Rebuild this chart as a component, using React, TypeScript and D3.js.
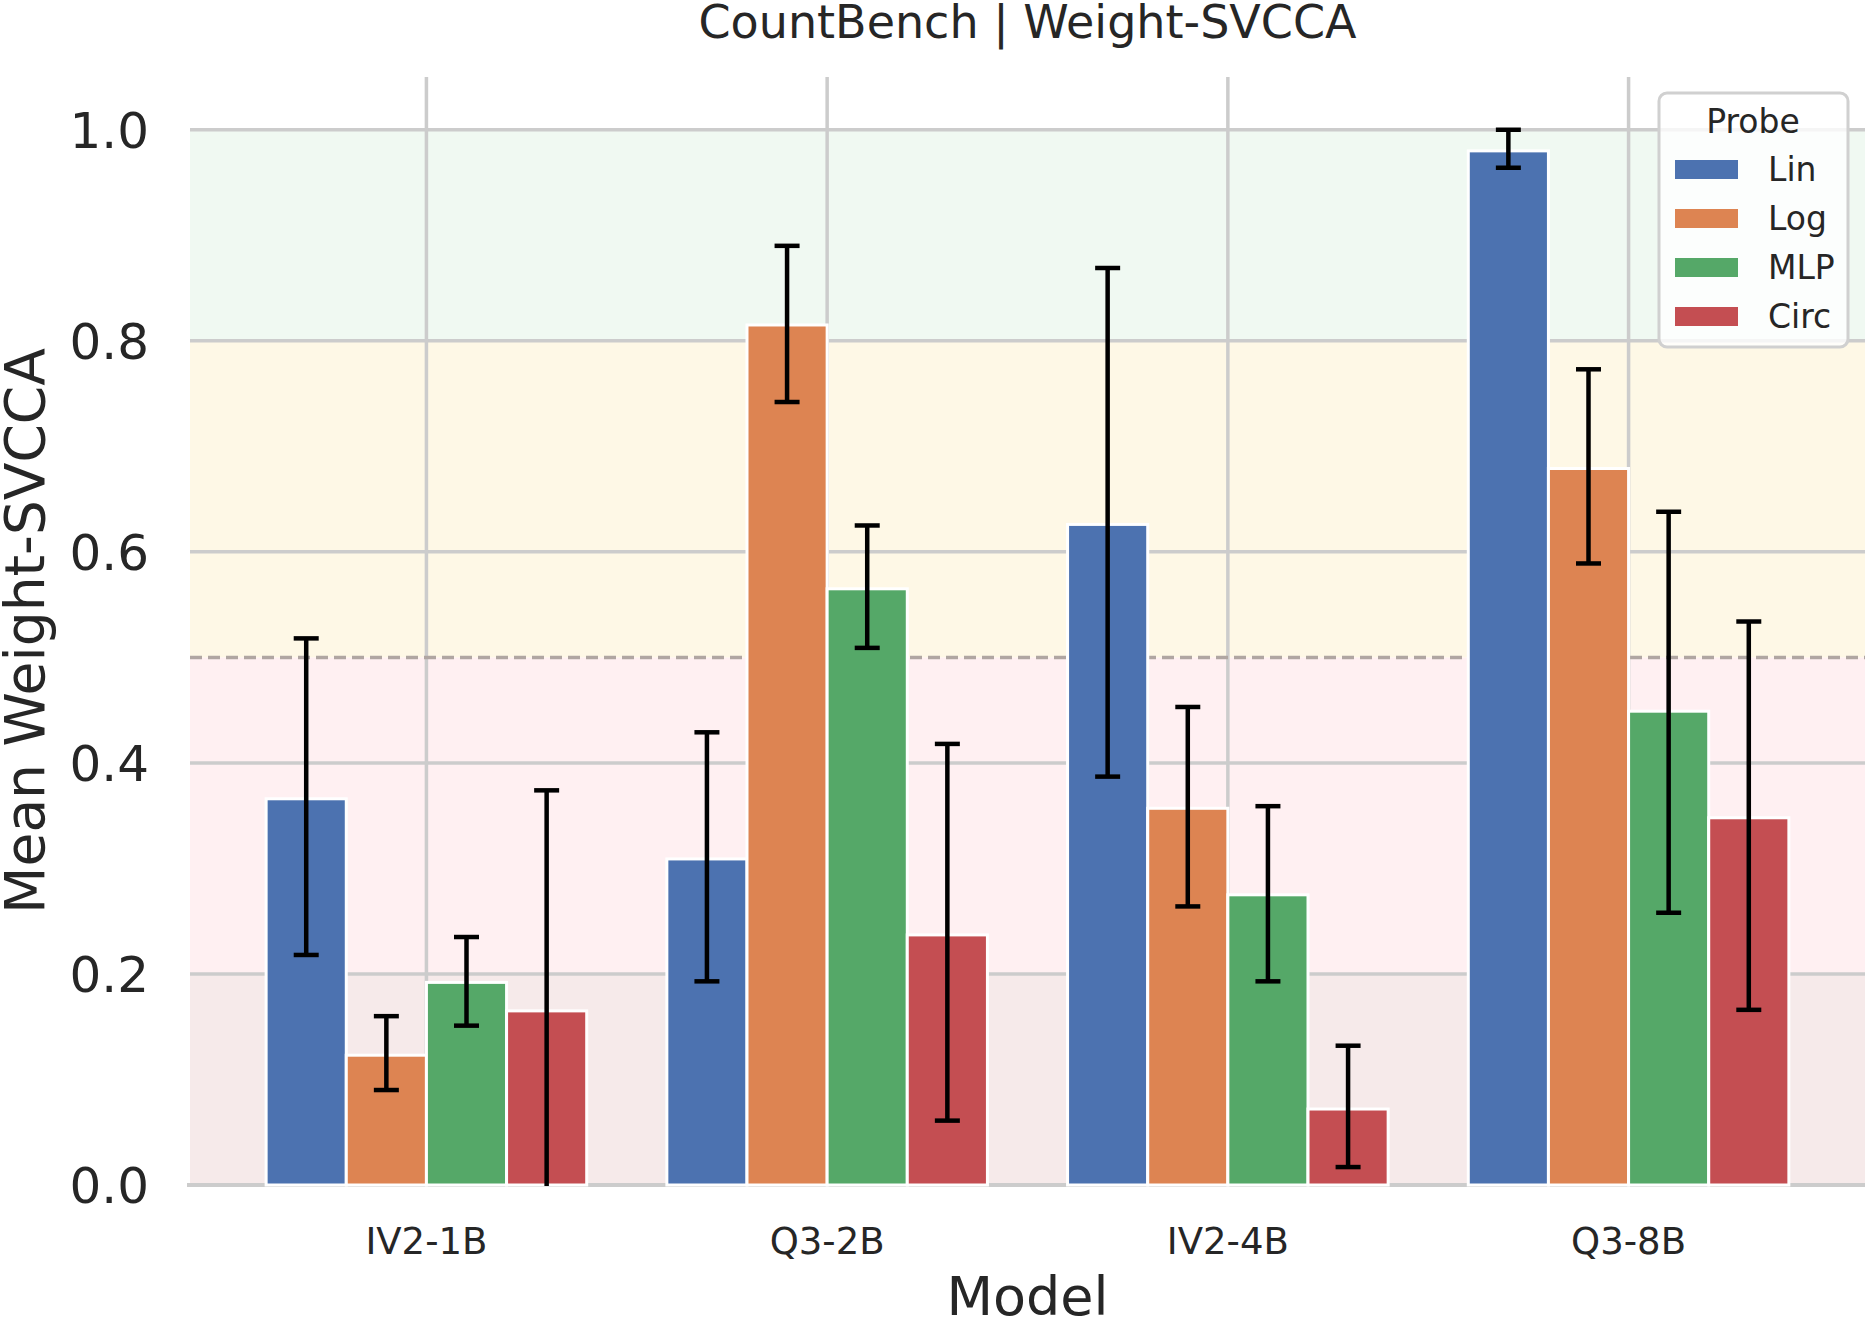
import React from "react";
import * as d3 from "d3";

// Models on the x axis and probe families in each group
const categories = ["IV2-1B", "Q3-2B", "IV2-4B", "Q3-8B"];
const probes = ["Lin", "Log", "MLP", "Circ"];
const probeColors = ["#4C72B0", "#DD8452", "#55A868", "#C44E52"];

// Mean Weight-SVCCA per model, with error bar ends
const linMean = [0.366, 0.309, 0.626, 0.98];
const linLo = [0.218, 0.193, 0.387, 0.964];
const linHi = [0.518, 0.429, 0.869, 1.0];

const logMean = [0.123, 0.815, 0.357, 0.679];
const logLo = [0.09, 0.742, 0.264, 0.589];
const logHi = [0.16, 0.89, 0.453, 0.773];

const mlpMean = [0.192, 0.565, 0.275, 0.449];
const mlpLo = [0.151, 0.509, 0.193, 0.258];
const mlpHi = [0.235, 0.625, 0.359, 0.638];

const circMean = [0.165, 0.237, 0.072, 0.348];
const circLo = [-0.044, 0.061, 0.017, 0.166];
const circHi = [0.374, 0.418, 0.132, 0.534];

// Shaded score bands
const bandLo = [0, 0.2, 0.5, 0.8];
const bandHi = [0.2, 0.5, 0.8, 1.0];
const bandColors = ["#f6eaea", "#fff0f2", "#fef8e6", "#f0f9f2"];
const threshold = 0.5;

const yTicks = [0, 0.2, 0.4, 0.6, 0.8, 1.0];

const W = 1867;
const H = 1321;
const left = 190;
const right = 1865;
const top = 77;
const bottom = 1185;
const font = "DejaVu Sans";
const textColor = "#262626";
const gridColor = "#cccccc";

export default function App() {
  const series = [
    { mean: linMean, lo: linLo, hi: linHi },
    { mean: logMean, lo: logLo, hi: logHi },
    { mean: mlpMean, lo: mlpLo, hi: mlpHi },
    { mean: circMean, lo: circLo, hi: circHi },
  ];

  const x = d3.scaleLinear().domain([-0.59, categories.length - 1 + 0.59]).range([left, right]);
  const y = d3.scaleLinear().domain([0, 1.05]).range([bottom, top]);
  const groupWidth = 0.8;
  const barW = groupWidth / probes.length;
  const capHalf = 12.5;

  return (
    <svg
      width={W}
      height={H}
      style={{ position: "absolute", left: 0, top: 0, background: "#fff" }}
      fontFamily={font}
    >
      <defs>
        <clipPath id="plot-clip">
          <rect x={left} y={top} width={right - left} height={bottom - top + 1} />
        </clipPath>
      </defs>

      {/* score bands */}
      {bandLo.map((lo, i) => (
        <rect
          key={"band" + i}
          x={left}
          y={y(bandHi[i])}
          width={right - left}
          height={y(lo) - y(bandHi[i])}
          fill={bandColors[i]}
        />
      ))}

      {/* grid */}
      {yTicks.map((t) => (
        <line key={"gy" + t} x1={left} x2={right} y1={y(t)} y2={y(t)} stroke={gridColor} strokeWidth={3.5} />
      ))}
      {categories.map((c, i) => (
        <line key={"gx" + c} x1={x(i)} x2={x(i)} y1={top} y2={bottom} stroke={gridColor} strokeWidth={3.5} />
      ))}

      {/* threshold line */}
      <line
        x1={left}
        x2={right}
        y1={y(threshold)}
        y2={y(threshold)}
        stroke="#b0a6a2"
        strokeWidth={3.5}
        strokeDasharray="12 6"
      />

      {/* bottom spine */}
      <line x1={left - 3} x2={right} y1={bottom} y2={bottom} stroke={gridColor} strokeWidth={4} />

      {/* bars */}
      {series.map((s, p) =>
        s.mean.map((v, i) => {
          const x0 = x(i - groupWidth / 2 + p * barW);
          const x1 = x(i - groupWidth / 2 + (p + 1) * barW);
          return (
            <rect
              key={"bar" + p + "-" + i}
              x={x0}
              y={y(v)}
              width={x1 - x0}
              height={y(0) - y(v)}
              fill={probeColors[p]}
              stroke="#ffffff"
              strokeWidth={3}
            />
          );
        })
      )}

      {/* error bars */}
      <g clipPath="url(#plot-clip)">
        {series.map((s, p) =>
          s.mean.map((_, i) => {
            const cx = x(i - groupWidth / 2 + (p + 0.5) * barW);
            const yl = y(s.lo[i]);
            const yh = y(s.hi[i]);
            return (
              <g key={"err" + p + "-" + i} stroke="#000" strokeWidth={4.5}>
                <line x1={cx} x2={cx} y1={yl} y2={yh} />
                <line x1={cx - capHalf} x2={cx + capHalf} y1={yh} y2={yh} />
                <line x1={cx - capHalf} x2={cx + capHalf} y1={yl} y2={yl} />
              </g>
            );
          })
        )}
      </g>

      {/* y tick labels */}
      {yTicks.map((t) => (
        <text key={"ty" + t} x={149} y={y(t) + 18} textAnchor="end" fontSize={50} fill={textColor}>
          {d3.format(".1f")(t)}
        </text>
      ))}

      {/* x tick labels */}
      {categories.map((c, i) => (
        <text key={"tx" + c} x={x(i)} y={1254} textAnchor="middle" fontSize={37} fill={textColor}>
          {c}
        </text>
      ))}

      {/* axis labels */}
      <text x={(left + right) / 2} y={1315} textAnchor="middle" fontSize={54} fill={textColor}>
        Model
      </text>
      <text
        transform={`translate(44, ${(top + bottom) / 2}) rotate(-90)`}
        textAnchor="middle"
        fontSize={55}
        fill={textColor}
      >
        Mean Weight-SVCCA
      </text>

      {/* title */}
      <text x={(left + right) / 2} y={38} textAnchor="middle" fontSize={46} fill={textColor}>
        CountBench | Weight-SVCCA
      </text>

      {/* legend */}
      <g>
        <rect x={1659} y={93} width={189} height={254} rx={8} fill="#ffffff" fillOpacity={0.8} stroke="#d0d0d0" strokeWidth={3} />
        <text x={1753} y={133} textAnchor="middle" fontSize={33} fill={textColor}>
          Probe
        </text>
        {probes.map((name, p) => (
          <g key={"leg" + name}>
            <rect x={1675} y={160 + p * 49} width={63} height={19} fill={probeColors[p]} />
            <text x={1768} y={181 + p * 49} fontSize={33} fill={textColor}>
              {name}
            </text>
          </g>
        ))}
      </g>
    </svg>
  );
}
